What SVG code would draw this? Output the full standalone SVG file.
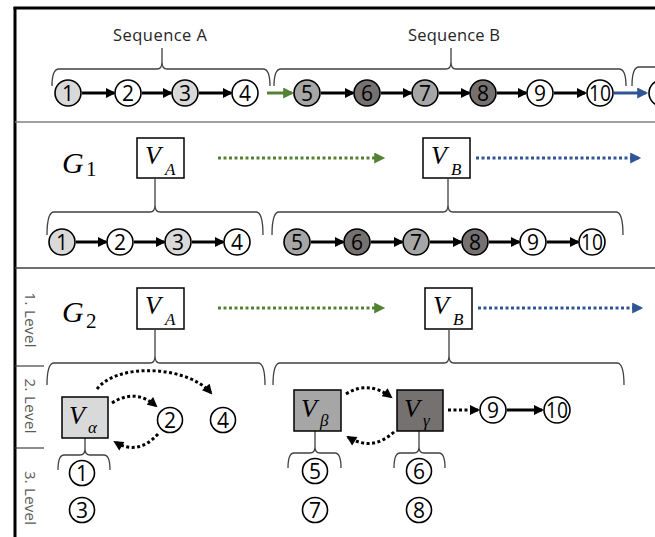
<svg xmlns="http://www.w3.org/2000/svg" width="655" height="537" viewBox="0 0 655 537">
<style>
  .c{stroke:#000;stroke-width:1.6}
  .w{fill:#fff}.l{fill:#d9d9d9}.m{fill:#a6a6a6}.d{fill:#767171}
  .n{font-family:"Open Sans","Liberation Sans",sans-serif;font-size:21px;text-anchor:middle;fill:#000}
  .a{stroke:#000;stroke-width:3;fill:none;marker-end:url(#ab)}
  .dt{stroke:#000;stroke-width:3;fill:none;stroke-dasharray:3 2.5;marker-end:url(#ab)}
  .br{stroke:#404040;stroke-width:1.3;fill:none}
  .box{stroke:#000;stroke-width:1.5}
  .v{font-family:"Liberation Serif","DejaVu Serif",serif;font-style:italic;font-size:26px;fill:#000}
  .s{font-family:"Liberation Serif","DejaVu Serif",serif;font-style:italic;font-size:17px;fill:#000}
  .g{font-family:"Liberation Serif","DejaVu Serif",serif;font-style:italic;font-size:30px;fill:#000}
  .gs{font-family:"Liberation Serif","DejaVu Serif",serif;font-size:21px;fill:#000}
  .seq{font-family:"Open Sans","Liberation Sans",sans-serif;font-size:16.5px;fill:#262626;text-anchor:middle}
  .lv{font-family:"Open Sans","Liberation Sans",sans-serif;font-size:15px;fill:#595959;text-anchor:middle}
</style>
<defs>
  <marker id="ab" markerUnits="userSpaceOnUse" viewBox="0 0 10 10" markerWidth="11" markerHeight="10" refX="8" refY="5" orient="auto"><path d="M0,0 L10,5 L0,10 z" fill="#000"/></marker>
  <marker id="ag" markerUnits="userSpaceOnUse" viewBox="0 0 10 10" markerWidth="12" markerHeight="11" refX="8" refY="5" orient="auto"><path d="M0,0 L10,5 L0,10 z" fill="#548235"/></marker>
  <marker id="abl" markerUnits="userSpaceOnUse" viewBox="0 0 10 10" markerWidth="12" markerHeight="11" refX="8" refY="5" orient="auto"><path d="M0,0 L10,5 L0,10 z" fill="#2f5597"/></marker>
</defs>
<rect width="655" height="537" fill="#fff"/>
<g id="frame">
  <line x1="13.5" y1="8" x2="655" y2="8" stroke="#000" stroke-width="3"/>
  <line x1="15" y1="7" x2="15" y2="537" stroke="#000" stroke-width="3"/>
  <line x1="15" y1="122" x2="655" y2="122" stroke="#808080" stroke-width="1.5"/>
  <line x1="15" y1="268" x2="655" y2="268" stroke="#404040" stroke-width="1.5"/>
  <line x1="15" y1="366" x2="44" y2="366" stroke="#404040" stroke-width="1.2"/>
  <line x1="15" y1="448" x2="44" y2="448" stroke="#404040" stroke-width="1.2"/>
  <text class="lv" transform="translate(30,320) rotate(90)" dy="5" textLength="55" lengthAdjust="spacing">1. Level</text>
  <text class="lv" transform="translate(30,406) rotate(90)" dy="5" textLength="55" lengthAdjust="spacing">2. Level</text>
  <text class="lv" transform="translate(30,498) rotate(90)" dy="5" textLength="54" lengthAdjust="spacing">3. Level</text>
</g>
<g id="braces">
  <path class="br" d="M52,86 Q52,69 59,69 L157,69 Q162,69 162,62 L162,48 M162,62 Q162,69 167,69 L263,69 Q270,69 270,86"/>
  <path class="br" d="M274,86 Q274,69 281,69 L446,69 Q451,69 451,62 L451,48 M451,62 Q451,69 456,69 L619,69 Q626,69 626,86"/>
  <path class="br" d="M632,86 Q632,67 639,67 L656,67"/>
  <path class="br" d="M47,235 Q47,212 54,212 L150,212 Q155,212 155,205 L155,179 M155,205 Q155,212 160,212 L256,212 Q263,212 263,235"/>
  <path class="br" d="M272,235 Q272,212 279,212 L443,212 Q448,212 448,205 L448,179 M448,205 Q448,212 453,212 L616,212 Q623,212 623,235"/>
  <path class="br" d="M47,385 Q47,363 54,363 L150,363 Q155,363 155,356 L155,330 M155,356 Q155,363 160,363 L258,363 Q265,363 265,385"/>
  <path class="br" d="M273,385 Q273,363 280,363 L444,363 Q449,363 449,356 L449,330 M449,356 Q449,363 454,363 L617,363 Q624,363 624,385"/>
  <path class="br" d="M58,470 Q58,455 64,455 L80,455 Q85,455 85,449 L85,438 M85,449 Q85,455 90,455 L104,455 Q110,455 110,470"/>
  <path class="br" d="M288,468 Q288,453 294,453 L310,453 Q315,453 315,447 L315,431 M315,447 Q315,453 320,453 L335,453 Q341,453 341,468"/>
  <path class="br" d="M394,468 Q394,453 400,453 L414,453 Q419,453 419,447 L419,431 M419,447 Q419,453 424,453 L439,453 Q445,453 445,468"/>
  <text class="seq" x="160" y="41" textLength="94" lengthAdjust="spacing">Sequence A</text>
  <text class="seq" x="454" y="41" textLength="92" lengthAdjust="spacing">Sequence B</text>
</g>
<g id="connectors">
  <line class="a" x1="82" y1="93" x2="114" y2="93"/>
  <line class="a" x1="142" y1="93" x2="171" y2="93"/>
  <line class="a" x1="199" y1="93" x2="231" y2="93"/>
  <line x1="267" y1="93" x2="292" y2="93" stroke="#548235" stroke-width="3" marker-end="url(#ag)"/>
  <line class="a" x1="321" y1="93" x2="353" y2="93"/>
  <line class="a" x1="381" y1="93" x2="411" y2="93"/>
  <line class="a" x1="439" y1="93" x2="469" y2="93"/>
  <line class="a" x1="497" y1="93" x2="526" y2="93"/>
  <line class="a" x1="554" y1="93" x2="585" y2="93"/>
  <line x1="614" y1="93" x2="646" y2="93" stroke="#2f5597" stroke-width="3" marker-end="url(#abl)"/>
  <line x1="218" y1="158" x2="383" y2="158" stroke="#548235" stroke-width="3" stroke-dasharray="3 2.5" marker-end="url(#ag)"/>
  <line x1="476" y1="158" x2="639" y2="158" stroke="#2f5597" stroke-width="3" stroke-dasharray="3 2.5" marker-end="url(#abl)"/>
  <line class="a" x1="76" y1="242" x2="106" y2="242"/>
  <line class="a" x1="134" y1="242" x2="164" y2="242"/>
  <line class="a" x1="192" y1="242" x2="223" y2="242"/>
  <line class="a" x1="311" y1="242" x2="343" y2="242"/>
  <line class="a" x1="371" y1="242" x2="402" y2="242"/>
  <line class="a" x1="430" y1="242" x2="461" y2="242"/>
  <line class="a" x1="489" y1="242" x2="519" y2="242"/>
  <line class="a" x1="547" y1="242" x2="578" y2="242"/>
  <line x1="218" y1="308" x2="383" y2="308" stroke="#548235" stroke-width="3" stroke-dasharray="3 2.5" marker-end="url(#ag)"/>
  <line x1="478" y1="308" x2="641" y2="308" stroke="#2f5597" stroke-width="3" stroke-dasharray="3 2.5" marker-end="url(#abl)"/>
  <path class="dt" d="M97,389 C118,362 188,366 211,393"/>
  <path class="dt" d="M112,403 Q135,388 156,406"/>
  <path class="dt" d="M158,434 Q138,456 115,442"/>
  <path class="dt" d="M346,394 Q368,380 391,397"/>
  <path class="dt" d="M394,432 Q372,452 348,437"/>
  <line class="dt" x1="448" y1="410" x2="478" y2="410"/>
  <line class="a" x1="507" y1="410" x2="542" y2="410"/>
</g>
<g id="r1n1"><circle class="c l" cx="68" cy="93" r="13"/><text class="n" x="68" y="100.5">1</text></g>
<g id="r1n2"><circle class="c w" cx="128" cy="93" r="13"/><text class="n" x="128" y="100.5">2</text></g>
<g id="r1n3"><circle class="c l" cx="185" cy="93" r="13"/><text class="n" x="185" y="100.5">3</text></g>
<g id="r1n4"><circle class="c w" cx="245" cy="93" r="13"/><text class="n" x="245" y="100.5">4</text></g>
<g id="r1n5"><circle class="c m" cx="307" cy="93" r="13"/><text class="n" x="307" y="100.5">5</text></g>
<g id="r1n6"><circle class="c d" cx="367" cy="93" r="13"/><text class="n" x="367" y="100.5">6</text></g>
<g id="r1n7"><circle class="c m" cx="425" cy="93" r="13"/><text class="n" x="425" y="100.5">7</text></g>
<g id="r1n8"><circle class="c d" cx="483" cy="93" r="13"/><text class="n" x="483" y="100.5">8</text></g>
<g id="r1n9"><circle class="c w" cx="540" cy="93" r="13"/><text class="n" x="540" y="100.5">9</text></g>
<g id="r1n10"><circle class="c w" cx="600" cy="93" r="13"/><text class="n" x="600" y="100.5" textLength="22" lengthAdjust="spacingAndGlyphs">10</text></g>
<g id="r1n11"><circle class="c w" cx="662" cy="93" r="13"/></g>
<g id="g1"><text class="g" x="62" y="173">G</text><text class="gs" x="86" y="176">1</text></g>
<g id="r2VA"><rect class="box" x="137" y="138" width="47" height="40" fill="#fff"/><text class="v" x="145" y="164">V</text><text class="s" x="165" y="175">A</text></g>
<g id="r2VB"><rect class="box" x="423" y="138" width="47" height="40" fill="#fff"/><text class="v" x="431" y="164">V</text><text class="s" x="451" y="175">B</text></g>
<g id="r2n1"><circle class="c l" cx="62" cy="242" r="13"/><text class="n" x="62" y="249.5">1</text></g>
<g id="r2n2"><circle class="c w" cx="120" cy="242" r="13"/><text class="n" x="120" y="249.5">2</text></g>
<g id="r2n3"><circle class="c l" cx="178" cy="242" r="13"/><text class="n" x="178" y="249.5">3</text></g>
<g id="r2n4"><circle class="c w" cx="237" cy="242" r="13"/><text class="n" x="237" y="249.5">4</text></g>
<g id="r2n5"><circle class="c m" cx="297" cy="242" r="13"/><text class="n" x="297" y="249.5">5</text></g>
<g id="r2n6"><circle class="c d" cx="357" cy="242" r="13"/><text class="n" x="357" y="249.5">6</text></g>
<g id="r2n7"><circle class="c m" cx="416" cy="242" r="13"/><text class="n" x="416" y="249.5">7</text></g>
<g id="r2n8"><circle class="c d" cx="475" cy="242" r="13"/><text class="n" x="475" y="249.5">8</text></g>
<g id="r2n9"><circle class="c w" cx="533" cy="242" r="13"/><text class="n" x="533" y="249.5">9</text></g>
<g id="r2n10"><circle class="c w" cx="592" cy="242" r="13"/><text class="n" x="592" y="249.5" textLength="22" lengthAdjust="spacingAndGlyphs">10</text></g>
<g id="g2"><text class="g" x="62" y="322">G</text><text class="gs" x="86" y="328">2</text></g>
<g id="r3VA"><rect class="box" x="137" y="288" width="47" height="41" fill="#fff"/><text class="v" x="145" y="314">V</text><text class="s" x="165" y="325">A</text></g>
<g id="r3VB"><rect class="box" x="425" y="288" width="47" height="41" fill="#fff"/><text class="v" x="433" y="314">V</text><text class="s" x="453" y="325">B</text></g>
<g id="Valpha"><rect class="box" x="62" y="397" width="46" height="41" fill="#d9d9d9"/><text class="v" x="69" y="424">V</text><text class="s" x="88" y="433">α</text></g>
<g id="Vbeta"><rect class="box" x="294" y="390" width="47" height="41" fill="#a6a6a6"/><text class="v" x="301" y="417">V</text><text class="s" x="320" y="426">β</text></g>
<g id="Vgamma"><rect class="box" x="397" y="390" width="46" height="41" fill="#767171"/><text class="v" x="404" y="417">V</text><text class="s" x="423" y="426">γ</text></g>
<g id="r3n2"><circle class="c w" cx="170" cy="420" r="12.5"/><text class="n" x="170" y="427.5">2</text></g>
<g id="r3n4"><circle class="c w" cx="223" cy="420" r="12.5"/><text class="n" x="223" y="427.5">4</text></g>
<g id="r3n9"><circle class="c w" cx="493" cy="410" r="13"/><text class="n" x="493" y="417.5">9</text></g>
<g id="r3n10"><circle class="c w" cx="557" cy="410" r="13"/><text class="n" x="557" y="417.5" textLength="22" lengthAdjust="spacingAndGlyphs">10</text></g>
<g id="r3n1"><circle class="c w" cx="82" cy="473" r="12.5"/><text class="n" x="82" y="480.5">1</text></g>
<g id="r3n3"><circle class="c w" cx="82" cy="510" r="12.5"/><text class="n" x="82" y="517.5">3</text></g>
<g id="r3n5"><circle class="c w" cx="315" cy="471" r="12.5"/><text class="n" x="315" y="478.5">5</text></g>
<g id="r3n7"><circle class="c w" cx="315" cy="510" r="12.5"/><text class="n" x="315" y="517.5">7</text></g>
<g id="r3n6"><circle class="c w" cx="419" cy="471" r="12.5"/><text class="n" x="419" y="478.5">6</text></g>
<g id="r3n8"><circle class="c w" cx="419" cy="510" r="12.5"/><text class="n" x="419" y="517.5">8</text></g>
</svg>
